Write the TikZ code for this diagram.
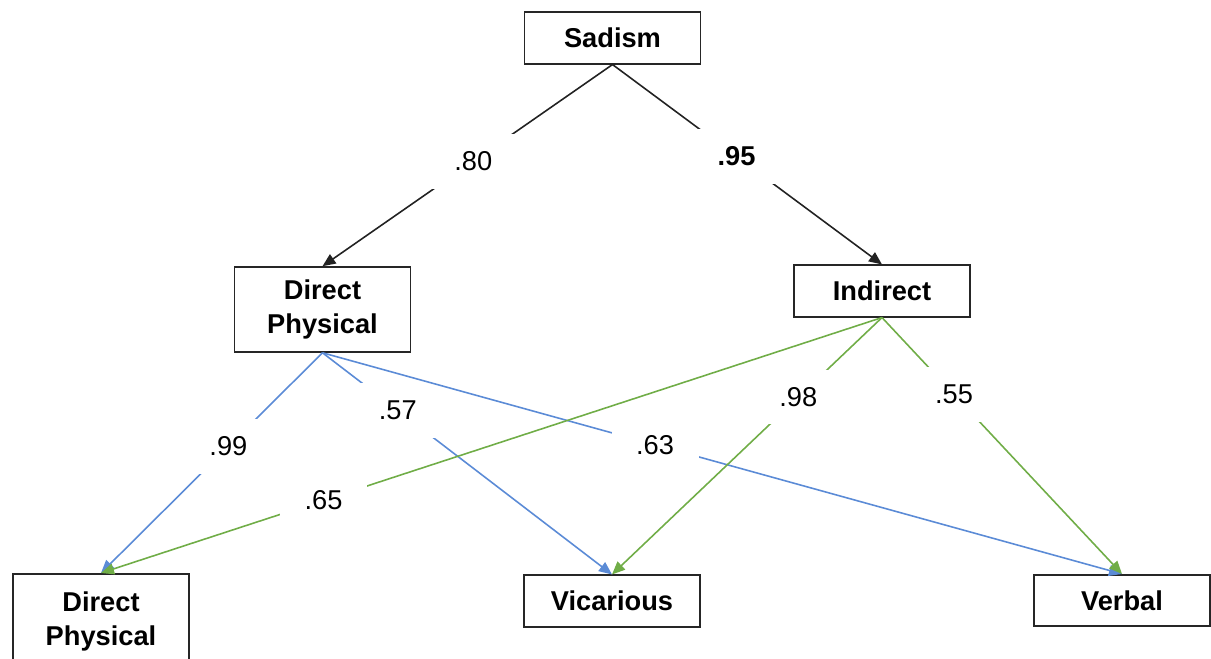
\documentclass[tikz,border=0pt]{standalone}
\usepackage{fontspec}
\setmainfont{Liberation Sans}
\usepackage{xcolor}
\usetikzlibrary{positioning, arrows.meta}
\definecolor{pathblue}{HTML}{5B8BD6}
\definecolor{pathgreen}{HTML}{70AD47}
\definecolor{pathblack}{HTML}{222222}

\tikzset{
    factorbox/.style={draw=black!85, line width=0.9pt, fill=white, minimum width=3.52cm,
          minimum height=1.03cm, align=center, font=\fontsize{15.5}{19.4}\selectfont\bfseries},
    loading/.style={fill=white, inner xsep=14pt, inner ysep=10pt,
          font=\fontsize{15.5}{19}\selectfont},
    link/.style={line width=0.9pt, -{Triangle[length=0.26cm, width=0.22cm]}},
}

\begin{document}
\begin{tikzpicture}
    \useasboundingbox (0,0) rectangle (24.22,-13.16);
    \begin{scope}
    \clip (0,0) rectangle (24.22,-13.16);

    \node[factorbox] (sadism) at (12.25,-0.76) {Sadism};
    \node[factorbox, minimum height=1.7cm] (dirphys) at (6.45,-6.19) {Direct\\Physical};
    \node[factorbox] (indirect) at (17.64,-5.82) {Indirect};
    \node[factorbox, minimum height=1.9cm, anchor=north] (dirphysB) at (2.02,-11.46) {Direct\\Physical};
    \node[factorbox] (vicarious) at (12.24,-12.02) {Vicarious};
    \node[factorbox] (verbal) at (22.44,-12.01) {Verbal};

    \draw[link, draw=pathblack, fill=pathblack] (sadism.south) -- node[loading, pos=0.48] {.80} (dirphys.north);
    \draw[link, draw=pathblack, fill=pathblack] (sadism.south) -- node[loading, pos=0.46, font=\fontsize{15.5}{19}\selectfont\bfseries] {.95} (indirect.north);

    \draw[link, draw=pathblue, fill=pathblue] (dirphys.south) -- node[loading, pos=0.425] {.99} (dirphysB.north);
    \draw[link, draw=pathblue, fill=pathblue] (dirphys.south) -- node[loading, pos=0.26] {.57} (vicarious.north);
    \draw[link, draw=pathblue, fill=pathblue] (dirphys.south) -- node[loading, pos=0.416] {.63} (verbal.north);

    \draw[link, draw=pathgreen, fill=pathgreen] (indirect.south) -- node[loading, pos=0.715] {.65} (dirphysB.north);
    \draw[link, draw=pathgreen, fill=pathgreen] (indirect.south) -- node[loading, pos=0.31] {.98} (vicarious.north);
    \draw[link, draw=pathgreen, fill=pathgreen] (indirect.south) -- node[loading, pos=0.30] {.55} (verbal.north);
    \end{scope}
\end{tikzpicture}
\end{document}
